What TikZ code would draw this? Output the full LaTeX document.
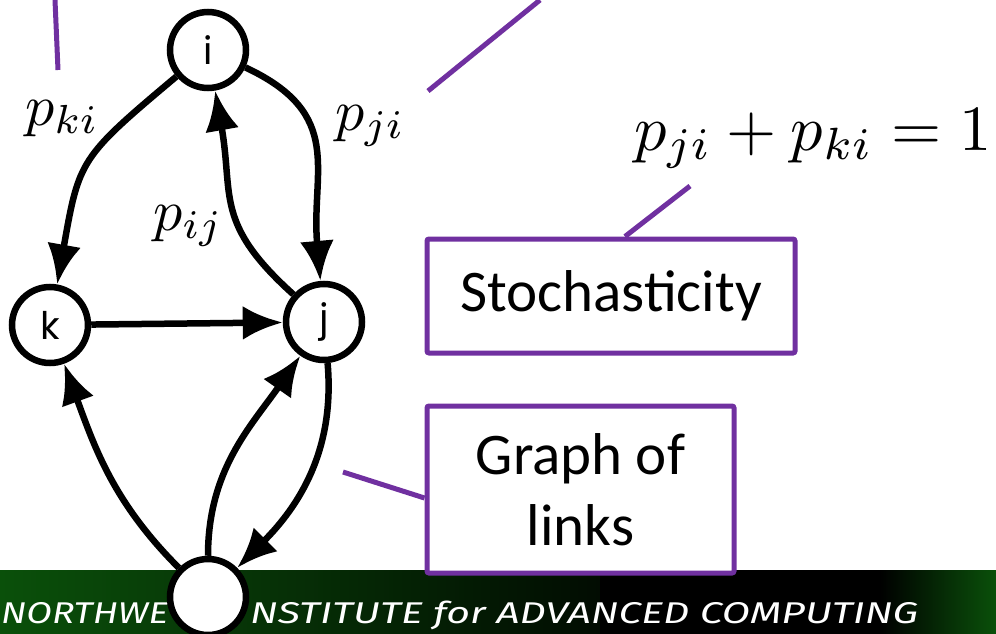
\documentclass[tikz,border=0pt]{standalone}
\usepackage{graphicx}
\usepackage{fontspec}
\setmainfont{Carlito}
\newfontfamily\statefont{Poppins}
\newfontfamily\bannerfont{Fira Sans}
\usetikzlibrary{arrows.meta,positioning}
\definecolor{leadpurple}{RGB}{112,48,160}
\definecolor{bannergreen}{RGB}{10,80,10}
\newcommand{\bigmath}[2]{\scalebox{#1}{$#2$}}

\begin{document}
\begin{tikzpicture}[x=1pt, y=1pt,
    state/.style={draw, circle, line width=6.5pt, minimum size=76pt, inner sep=0pt, fill=white,
      font=\statefont\fontsize{38}{38}\selectfont},
    link/.style={line width=6.5pt, -{Latex[length=40pt, width=34pt]}},
    prob/.style={inner sep=0pt, anchor=base west},
    callout/.style={draw=leadpurple, line width=5pt, rounded corners=2pt, fill=white,
      align=center, inner sep=0pt, font=\fontsize{59}{71}\selectfont},
    lead/.style={draw=leadpurple, line width=5pt},
    bannertext/.style={anchor=base west, inner sep=0pt, text=white,
      font=\bannerfont\itshape\fontsize{30}{30}\selectfont}]
    \useasboundingbox (0,0) rectangle (996,-634);

    % banner
    \shade[left color=bannergreen, right color=black!85!bannergreen] (0,-570) rectangle (600,-634);
    \fill[black] (600,-570) rectangle (880,-634);
    \shade[left color=black, right color=bannergreen] (880,-570) rectangle (996,-634);
    \node[bannertext] (nuitleft) at (1,-623) {\resizebox{167pt}{\height}{NORTHWE}};
    \node[bannertext] (nuitright) at (250,-623) {\resizebox{668pt}{\height}{NSTITUTE for ADVANCED COMPUTING}};

    % graph of links
    \node[state] (i) at (208,-50) {i};
    \node[state] (k) at (50,-325) {k};
    \node[state] (j) at (324,-322) {j};
    \node[state] (s) at (208,-597) {};

    \draw[link] (i) to[out=220, in=80, looseness=1.35] (k);
    \draw[link] (i) to[out=-25, in=95, looseness=1.25] (j);
    \draw[link] (j) to[out=138, in=-80, looseness=1.25] (i);
    \draw[link] (k) -- (j);
    \draw[link] (s) to[out=135, in=-70] (k);
    \draw[link] (s) to[out=90, in=235] (j);
    \draw[link] (j) to[out=-85, in=45] (s);

    \node[prob] (pki) at (25,-125) {\bigmath{5.8}{p_{ki}}};
    \node[prob] (pji) at (335,-130) {\bigmath{5.8}{p_{ji}}};
    \node[prob] (pij) at (153,-230) {\bigmath{5.8}{p_{ij}}};

    \node[prob] (sum) at (634,-150) {\bigmath{6.45}{p_{ji}+p_{ki}=1}};

    % callouts
    \node[callout, minimum width=368pt, minimum height=114pt] (stoch) at (611,-296) {Stochasticity};
    \node[callout, minimum width=307pt, minimum height=167pt] (graph) at (580.5,-489.5) {Graph of\\links};

    \coordinate (sumfoot) at (690,-186);
    \coordinate (linkfoot) at (343,-472);
    \coordinate (topa) at (55,0);
    \coordinate (topafoot) at (58,-70);
    \coordinate (topb) at (540,0);
    \coordinate (topbfoot) at (428,-91);
    \draw[lead] ([xshift=14pt]stoch.north) -- (sumfoot);
    \draw[lead] ([yshift=-8.5pt]graph.west) -- (linkfoot);
    \draw[lead] (topa) -- (topafoot);
    \draw[lead] (topb) -- (topbfoot);
\end{tikzpicture}
\end{document}
